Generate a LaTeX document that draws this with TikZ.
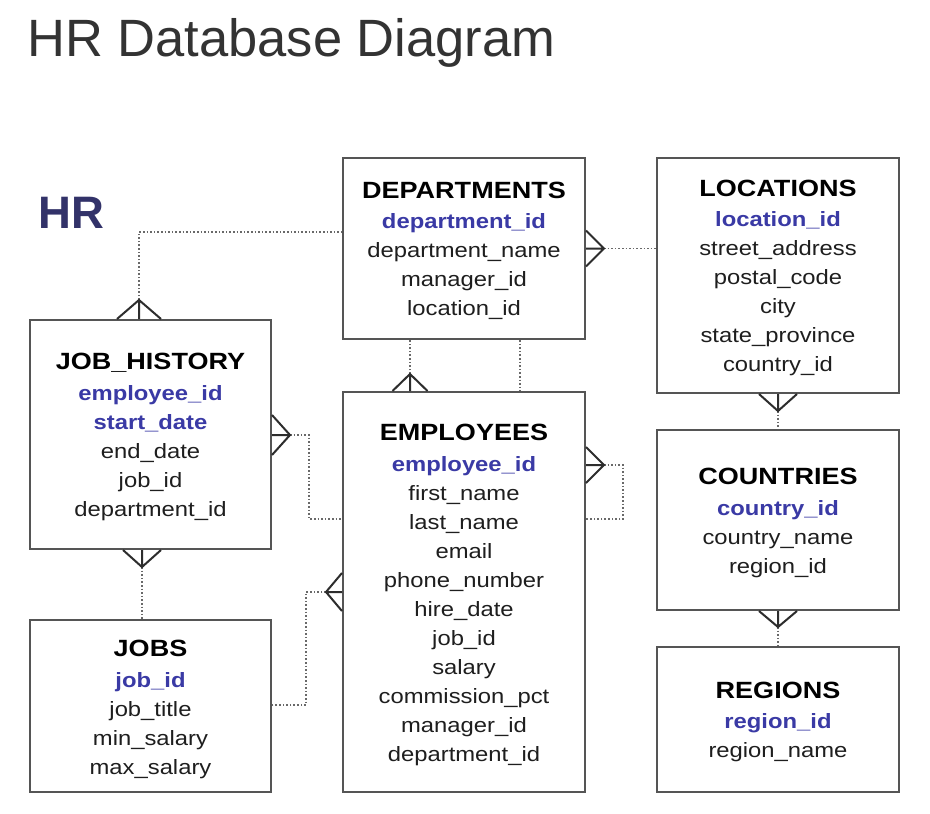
\documentclass[tikz,border=0pt]{standalone}
\usepackage{fontspec}
\setmainfont{Liberation Sans}
\newfontfamily\boxfont[FakeStretch=1.15]{Liberation Sans}
\usetikzlibrary{calc}
\definecolor{titlegray}{RGB}{51,51,51}
\definecolor{hrblue}{RGB}{50,50,105}
\definecolor{keyblue}{RGB}{58,58,165}
\definecolor{fieldgray}{RGB}{30,30,30}
\definecolor{boxline}{RGB}{85,85,85}
\definecolor{relline}{RGB}{105,105,105}
\definecolor{crowcol}{RGB}{45,45,45}
\newcommand\crowfoot[3]{\draw[crowline] ($(#1)+#3$) -- (#2) -- ($(#1)-#3$) (#2) -- (#1);}
\begin{document}
\begin{tikzpicture}[x=1pt,y=-1pt,
  entity/.style={draw=boxline, line width=2pt, fill=white, inner sep=0pt},
  ttl/.style={font=\boxfont\bfseries\fontsize{23.5}{28}\selectfont, text=black, anchor=base, inner sep=0pt},
  fld/.style={font=\boxfont\fontsize{20.7}{25}\selectfont, text=fieldgray, anchor=base, inner sep=0pt},
  keyf/.style={font=\boxfont\bfseries\fontsize{20.7}{25}\selectfont, text=keyblue, anchor=base, inner sep=0pt},
  rel/.style={draw=relline, line width=1.6pt, dash pattern=on 1.6pt off 2pt},
  crowline/.style={draw=crowcol, line width=2pt}]
\useasboundingbox (0,0) rectangle (930,814);
\fill[white] (0,0) rectangle (930,814);

% headings
\node[anchor=base west, inner sep=0pt, text=titlegray, font=\fontsize{52.5}{60}\selectfont] (title) at (27,56) {HR Database Diagram};
\node[anchor=base west, inner sep=0pt, text=hrblue, font=\bfseries\fontsize{45.5}{50}\selectfont] (hr) at (38,228) {HR};

% boxes
\node[entity, minimum width=242pt, minimum height=181pt] (dep) at (464,248.5) {};
\node[entity, minimum width=242pt, minimum height=235pt] (loc) at (778,275.5) {};
\node[entity, minimum width=241pt, minimum height=229pt] (jh) at (150.5,434.5) {};
\node[entity, minimum width=242pt, minimum height=400pt] (emp) at (464,592) {};
\node[entity, minimum width=242pt, minimum height=180pt] (cty) at (778,520) {};
\node[entity, minimum width=241pt, minimum height=172pt] (jobs) at (150.5,706) {};
\node[entity, minimum width=242pt, minimum height=145pt] (reg) at (778,719.5) {};

% DEPARTMENTS
\node[ttl] (dep-t) at (464,198) {DEPARTMENTS};
\node[keyf] (dep-k) at (464,228) {department\_id};
\node[fld] (dep-1) at (464,257) {department\_name};
\node[fld] (dep-2) at (464,286) {manager\_id};
\node[fld] (dep-3) at (464,315) {location\_id};

% LOCATIONS
\node[ttl] (loc-t) at (778,196) {LOCATIONS};
\node[keyf] (loc-k) at (778,226) {location\_id};
\node[fld] (loc-1) at (778,255) {street\_address};
\node[fld] (loc-2) at (778,284) {postal\_code};
\node[fld] (loc-3) at (778,313) {city};
\node[fld] (loc-4) at (778,342) {state\_province};
\node[fld] (loc-5) at (778,371) {country\_id};

% JOB_HISTORY
\node[ttl] (jh-t) at (150.5,369) {JOB\_HISTORY};
\node[keyf] (jh-k1) at (150.5,400) {employee\_id};
\node[keyf] (jh-k2) at (150.5,429) {start\_date};
\node[fld] (jh-1) at (150.5,458) {end\_date};
\node[fld] (jh-2) at (150.5,487) {job\_id};
\node[fld] (jh-3) at (150.5,516) {department\_id};

% EMPLOYEES
\node[ttl] (emp-t) at (464,440) {EMPLOYEES};
\node[keyf] (emp-k) at (464,471) {employee\_id};
\node[fld] (emp-1) at (464,500) {first\_name};
\node[fld] (emp-2) at (464,529) {last\_name};
\node[fld] (emp-3) at (464,558) {email};
\node[fld] (emp-4) at (464,587) {phone\_number};
\node[fld] (emp-5) at (464,616) {hire\_date};
\node[fld] (emp-6) at (464,645) {job\_id};
\node[fld] (emp-7) at (464,674) {salary};
\node[fld] (emp-8) at (464,703) {commission\_pct};
\node[fld] (emp-9) at (464,732) {manager\_id};
\node[fld] (emp-10) at (464,761) {department\_id};

% COUNTRIES
\node[ttl] (cty-t) at (778,484) {COUNTRIES};
\node[keyf] (cty-k) at (778,515) {country\_id};
\node[fld] (cty-1) at (778,544) {country\_name};
\node[fld] (cty-2) at (778,573) {region\_id};

% JOBS
\node[ttl] (jobs-t) at (150.5,656) {JOBS};
\node[keyf] (jobs-k) at (150.5,687) {job\_id};
\node[fld] (jobs-1) at (150.5,716) {job\_title};
\node[fld] (jobs-2) at (150.5,745) {min\_salary};
\node[fld] (jobs-3) at (150.5,774) {max\_salary};

% REGIONS
\node[ttl] (reg-t) at (778,698) {REGIONS};
\node[keyf] (reg-k) at (778,728) {region\_id};
\node[fld] (reg-1) at (778,757) {region\_name};

% relationships
% JOB_HISTORY -- DEPARTMENTS
\coordinate (e1) at ($(jh.north)+(-11.5,0)$);
\coordinate (a1) at ($(e1)+(0,-19)$);
\draw[rel] (a1) |- ($(dep.west)+(0,-16.5)$);
\crowfoot{e1}{a1}{(22,0)}

% JOB_HISTORY -- EMPLOYEES
\coordinate (e2) at ($(jh.east)+(0,0.5)$);
\coordinate (a2) at ($(e2)+(18,0)$);
\draw[rel] (a2) -- ++(19,0) |- ($(emp.west)+(0,-73)$);
\crowfoot{e2}{a2}{(0,20)}

% DEPARTMENTS -- LOCATIONS
\coordinate (e3) at (dep.east);
\coordinate (a3) at ($(e3)+(18,0)$);
\draw[rel] (a3) -- (a3 -| loc.west);
\crowfoot{e3}{a3}{(0,18)}

% EMPLOYEES self (manager)
\coordinate (e4) at ($(emp.east)+(0,-127)$);
\coordinate (a4) at ($(e4)+(18,0)$);
\draw[rel] (a4) -- ++(19,0) |- ($(emp.east)+(0,-73)$);
\crowfoot{e4}{a4}{(0,18)}

% EMPLOYEES -- JOBS
\coordinate (e5) at (emp.west);
\coordinate (a5) at ($(e5)+(-16,0)$);
\draw[rel] (a5) -- ++(-20,0) |- ($(jobs.east)+(0,-1)$);
\crowfoot{e5}{a5}{(0,19)}

% DEPARTMENTS -- EMPLOYEES (dept)
\coordinate (e6) at ($(emp.north)+(-54,0)$);
\coordinate (a6) at ($(e6)+(0,-17)$);
\draw[rel] (a6) -- (a6 |- dep.south);
\crowfoot{e6}{a6}{(17.5,0)}

% EMPLOYEES -- DEPARTMENTS (manager)
\draw[rel] ($(dep.south)+(56,0)$) -- ($(emp.north)+(56,0)$);

% LOCATIONS -- COUNTRIES
\coordinate (e8) at (loc.south);
\coordinate (a8) at ($(e8)+(0,17)$);
\draw[rel] (a8) -- (a8 |- cty.north);
\crowfoot{e8}{a8}{(19,0)}

% COUNTRIES -- REGIONS
\coordinate (e9) at (cty.south);
\coordinate (a9) at ($(e9)+(0,16)$);
\draw[rel] (a9) -- (a9 |- reg.north);
\crowfoot{e9}{a9}{(19,0)}

% JOB_HISTORY -- JOBS
\coordinate (e10) at ($(jh.south)+(-8.5,0)$);
\coordinate (a10) at ($(e10)+(0,17)$);
\draw[rel] (a10) -- (a10 |- jobs.north);
\crowfoot{e10}{a10}{(19,0)}
\end{tikzpicture}
\end{document}
